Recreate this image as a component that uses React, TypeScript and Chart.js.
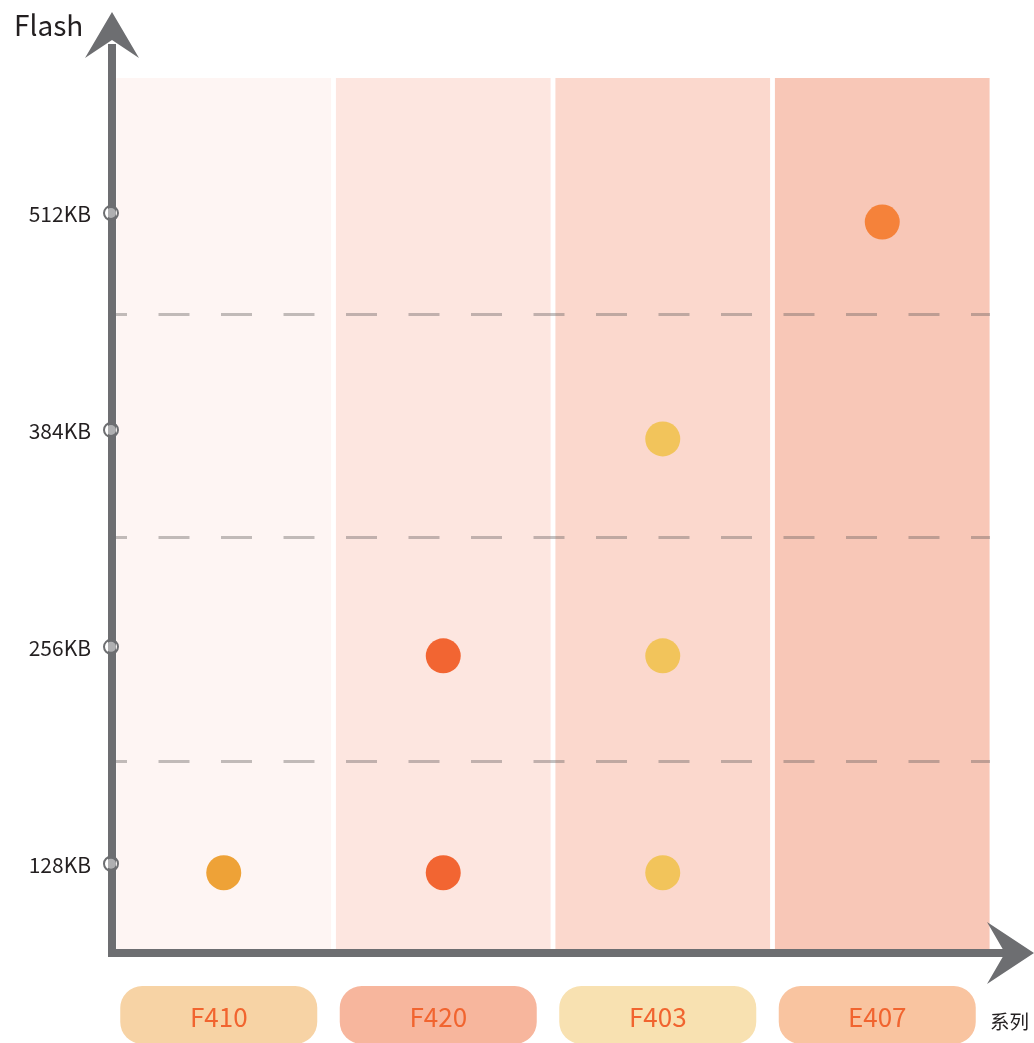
import React, { useEffect, useRef } from "react";
import { Chart, registerables } from "chart.js";

Chart.register(...registerables);

// ---- data ----
const categories = ["F410", "F420", "F403", "E407"];
const columnColors = ["#FEF5F3", "#FDE6E0", "#FBD8CD", "#F8C7B7"];
const pillColors = ["#F7D3A5", "#F7B69D", "#F8E1B1", "#F9C4A0"];
const seriesColors = ["#EEA237", "#F26532", "#F2C45B", "#F5823A"];
const seriesF410 = [128];
const seriesF420 = [128, 256];
const seriesF403 = [128, 256, 384];
const seriesE407 = [512];
const tickValues = [128, 256, 384, 512];
const tickLabels = ["128KB", "256KB", "384KB", "512KB"];
const gridValues = [194, 326, 458];
const yTitle = "Flash";
const xTitle = "系列";

const Y_MIN = 83;
const Y_MAX = 597;
const FONT = '"Noto Sans CJK SC", "Noto Sans", sans-serif';
const AXIS_COLOR = "#6D6E71";

const decorPlugin = {
  id: "decor",
  afterDatasetsDraw(chart: any) {
    const { ctx, chartArea, scales } = chart;
    const x = scales.x;
    const y = scales.y;
    ctx.save();
    // dashed grid lines
    ctx.strokeStyle = "rgba(95,90,90,0.38)";
    ctx.lineWidth = 3;
    ctx.setLineDash([31, 31.5]);
    ctx.lineDashOffset = 20;
    gridValues.forEach((v) => {
      const py = Math.round(y.getPixelForValue(v)) + 0.5;
      ctx.beginPath();
      ctx.moveTo(116, py);
      ctx.lineTo(990, py);
      ctx.stroke();
    });
    ctx.setLineDash([]);

    const ax = 112; // axis centre x
    const ay = chartArea.bottom + 4; // axis centre y
    // axis lines
    ctx.strokeStyle = AXIS_COLOR;
    ctx.lineWidth = 8;
    ctx.beginPath();
    ctx.moveTo(ax, 44);
    ctx.lineTo(ax, ay + 4);
    ctx.moveTo(ax - 4, ay);
    ctx.lineTo(1008, ay);
    ctx.stroke();
    // arrow heads
    ctx.fillStyle = AXIS_COLOR;
    ctx.beginPath();
    ctx.moveTo(ax, 12);
    ctx.lineTo(ax + 27, 58);
    ctx.lineTo(ax, 40);
    ctx.lineTo(ax - 27, 58);
    ctx.closePath();
    ctx.fill();
    ctx.beginPath();
    ctx.moveTo(1034, ay);
    ctx.lineTo(987, ay - 31);
    ctx.lineTo(1005, ay);
    ctx.lineTo(987, ay + 31);
    ctx.closePath();
    ctx.fill();

    // y tick labels and rings
    ctx.font = `21px ${FONT}`;
    ctx.textAlign = "right";
    ctx.textBaseline = "middle";
    tickValues.forEach((v, i) => {
      const py = y.getPixelForValue(v) - 9;
      ctx.fillStyle = "#231F20";
      ctx.fillText(tickLabels[i], 91, py + 1);
      ctx.beginPath();
      ctx.arc(ax - 1, py, 5, 0, Math.PI * 2);
      ctx.fillStyle = "rgba(255,255,255,0.45)";
      ctx.fill();
      ctx.beginPath();
      ctx.arc(ax - 1, py, 7, 0, Math.PI * 2);
      ctx.strokeStyle = AXIS_COLOR;
      ctx.lineWidth = 2;
      ctx.stroke();
    });

    // titles
    ctx.fillStyle = "#231F20";
    ctx.textAlign = "left";
    ctx.font = `28px ${FONT}`;
    ctx.fillText(yTitle, 14, 25);
    ctx.font = `19.5px ${FONT}`;
    ctx.fillText(xTitle, 990, 1022);

    // category pills
    categories.forEach((c, i) => {
      const cx = x.getPixelForValue(i) - 5;
      const w = 197;
      const h = 58;
      const top = chartArea.bottom + 37;
      ctx.fillStyle = pillColors[i];
      ctx.beginPath();
      ctx.roundRect(cx - w / 2, top, w, h, 22);
      ctx.fill();
      ctx.fillStyle = "#F1642F";
      ctx.textAlign = "center";
      ctx.font = `26px ${FONT}`;
      ctx.fillText(c, cx, top + 31);
    });
    ctx.restore();
  },
};

function pts(cat: string, vals: number[]) {
  return vals.map((v) => ({ x: cat, y: v }));
}

export default function App() {
  const ref = useRef<HTMLCanvasElement>(null);
  useEffect(() => {
    if (!ref.current) return;
    const series = [seriesF410, seriesF420, seriesF403, seriesE407];
    const chart = new Chart(ref.current, {
      type: "bar",
      data: {
        labels: categories,
        datasets: [
          {
            type: "bar",
            data: categories.map(() => [Y_MIN, Y_MAX]) as any,
            backgroundColor: columnColors,
            barPercentage: 1,
            categoryPercentage: 0.978,
            borderWidth: 0,
            order: 10,
          } as any,
          ...series.map((s, i) => ({
            type: "line",
            label: categories[i],
            data: pts(categories[i], s),
            showLine: false,
            pointRadius: 17.5,
            pointHoverRadius: 17.5,
            pointBorderWidth: 0,
            pointBackgroundColor: seriesColors[i],
            pointBorderColor: seriesColors[i],
            order: 1,
          })),
        ],
      },
      options: {
        animation: false,
        responsive: false,
        events: [],
        layout: { padding: { left: 114, right: 42, top: 78, bottom: 94 } },
        plugins: { legend: { display: false }, tooltip: { enabled: false } },
        scales: {
          x: { type: "category", display: false, offset: true },
          y: { type: "linear", display: false, min: Y_MIN, max: Y_MAX },
        },
      },
      plugins: [decorPlugin],
    });
    return () => chart.destroy();
  }, []);
  return (
    <div style={{ position: "absolute", left: 0, top: 0, width: 1034, height: 1043, background: "#fff" }}>
      <canvas ref={ref} width={1034} height={1043} style={{ display: "block", width: 1034, height: 1043 }} />
    </div>
  );
}
